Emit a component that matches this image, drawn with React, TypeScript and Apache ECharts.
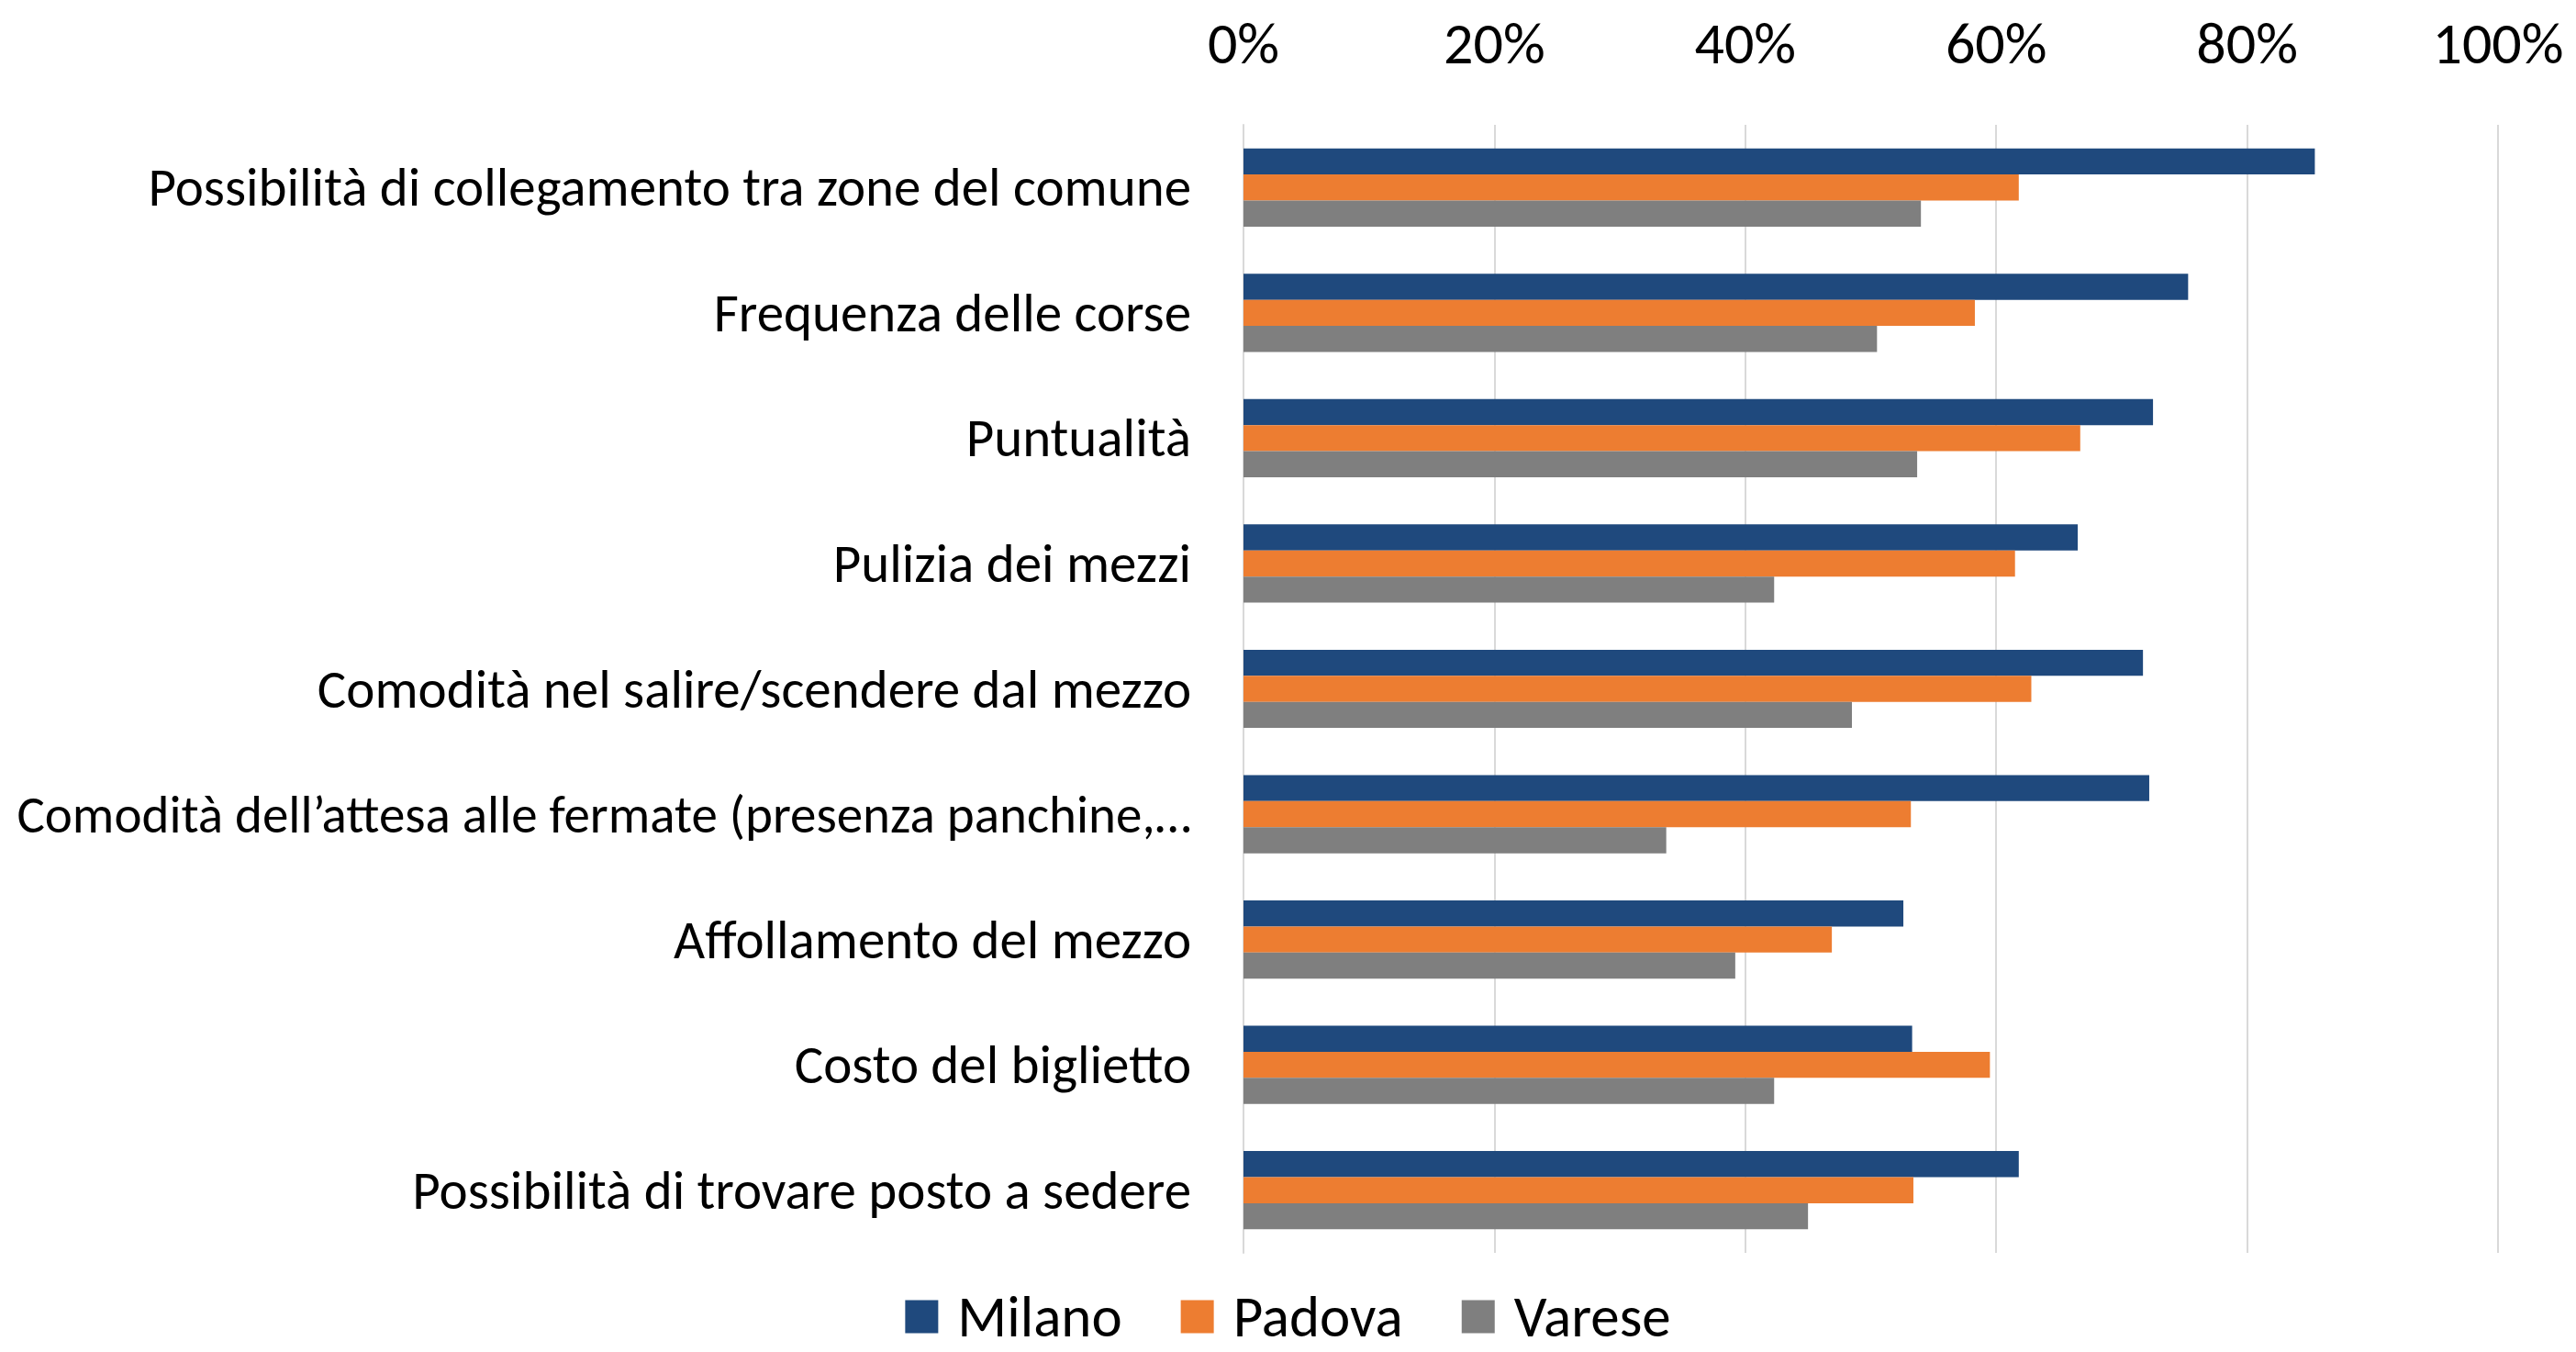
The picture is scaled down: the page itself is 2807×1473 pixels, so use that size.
import React, { useEffect, useRef } from "react";
import * as echarts from "echarts";

const categories = [
  "Possibilità di collegamento tra zone del comune",
  "Frequenza delle corse",
  "Puntualità",
  "Pulizia dei mezzi",
  "Comodità nel salire/scendere dal mezzo",
  "Comodità dell’attesa alle fermate (presenza panchine,…",
  "Affollamento del mezzo",
  "Costo del biglietto",
  "Possibilità di trovare posto a sedere",
];

const seriesNames = ["Milano", "Padova", "Varese"];
const milano = [85.4, 75.3, 72.5, 66.5, 71.7, 72.2, 52.6, 53.3, 61.8];
const padova = [61.8, 58.3, 66.7, 61.5, 62.8, 53.2, 46.9, 59.5, 53.4];
const varese = [54.0, 50.5, 53.7, 42.3, 48.5, 33.7, 39.2, 42.3, 45.0];
const tickValues = [0, 20, 40, 60, 80, 100];

const colors = ["#1F497D", "#ED7D31", "#7F7F7F"];
const FONT = "Carlito, Calibri, Lato, sans-serif";

export default function App() {
  const ref = useRef<HTMLDivElement>(null);
  useEffect(() => {
    if (!ref.current) return;
    const chart = echarts.init(ref.current, undefined, { renderer: "svg" });
    const values = [milano, padova, varese];
    chart.setOption({
      animation: false,
      color: colors,
      grid: {
        left: 1355,
        right: 85,
        top: 136,
        bottom: 108,
        containLabel: false,
        outerBoundsMode: "none",
      },
      legend: {
        bottom: 2,
        left: "center",
        icon: "rect",
        itemWidth: 36,
        itemHeight: 36,
        itemGap: 64,
        textStyle: {
          fontFamily: FONT,
          fontSize: 63,
          color: "#000",
          padding: [0, 0, 0, 16],
        },
        data: seriesNames,
      },
      xAxis: {
        type: "value",
        position: "top",
        min: tickValues[0],
        max: tickValues[tickValues.length - 1],
        interval: 20,
        axisLine: { show: false },
        axisTick: { show: false },
        splitLine: { show: true, lineStyle: { color: "#D9D9D9", width: 2 } },
        axisLabel: {
          formatter: "{value}%",
          fontFamily: FONT,
          fontSize: 64,
          color: "#000",
          margin: 57,
        },
      },
      yAxis: {
        type: "category",
        inverse: true,
        data: categories,
        axisLine: { show: true, lineStyle: { color: "#D9D9D9", width: 2 } },
        axisTick: { show: false },
        axisLabel: {
          fontFamily: FONT,
          fontSize: 59,
          color: "#000",
          margin: 57,
          formatter: (v: string) => (v.length > 50 ? "{long|" + v + "}" : v),
          rich: {
            long: { fontFamily: FONT, fontSize: 57, color: "#000" },
          },
        },
      },
      series: seriesNames.map((name, i) => ({
        name,
        type: "bar",
        data: values[i],
        barWidth: 28.4,
        barGap: "0%",
        itemStyle: { color: colors[i] },
      })),
    });
    return () => chart.dispose();
  }, []);
  return (
    <div
      ref={ref}
      style={{ position: "fixed", left: 0, top: 0, width: 2807, height: 1473, background: "#fff" }}
    />
  );
}
